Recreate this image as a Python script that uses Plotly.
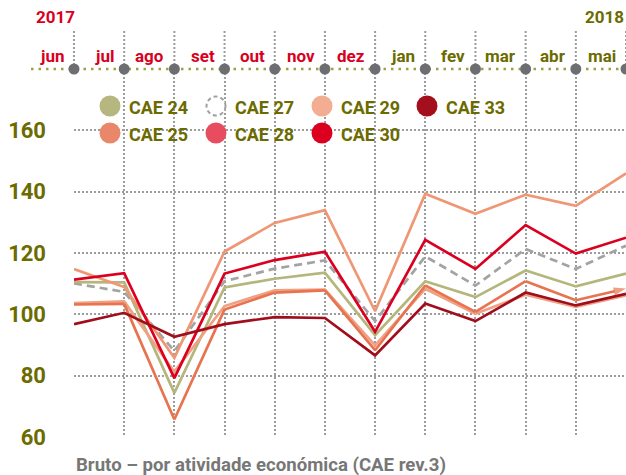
import plotly.graph_objects as go

# ---------------- data ----------------
months = ["jun", "jul", "ago", "set", "out", "nov", "dez", "jan", "fev", "mar", "abr", "mai"]
month_year = [2017, 2017, 2017, 2017, 2017, 2017, 2017, 2018, 2018, 2018, 2018, 2018]
years = ["2017", "2018"]

cae24 = [110.5, 110.4, 74.4, 108.8, 111.6, 113.6, 93.2, 110.8, 105.6, 114.3, 109.1, 113.3]
cae25 = [103.2, 103.4, 65.7, 101.6, 107.1, 107.8, 88.3, 109.4, 100.8, 110.8, 104.6, 108.4]
cae27 = [110.1, 107.3, 88.0, 110.8, 114.9, 117.6, 97.8, 118.9, 109.4, 121.3, 114.8, 122.4]
cae28 = [103.7, 104.2, 81.3, 102.7, 107.8, 108.1, 89.9, 108.3, 100.2, 106.4, 102.4, 106.2]
cae29 = [114.8, 108.9, 85.8, 120.5, 129.8, 134.0, 101.0, 139.3, 132.8, 139.0, 135.4, 146.0]
cae30 = [111.3, 113.4, 79.2, 113.3, 117.7, 120.4, 94.3, 124.3, 114.8, 129.1, 119.8, 125.0]
cae33 = [96.8, 100.5, 92.7, 96.8, 99.1, 98.8, 86.6, 103.5, 97.8, 107.1, 102.9, 106.7]

y_ticks = [60, 80, 100, 120, 140, 160]
timeline_value = 180
caption = "Bruto \u2013 por atividade económica (CAE rev.3)"

# ---------------- styles ----------------
OLIVE = "#6b6b00"
RED_TXT = "#d9001e"
GRID = "#9c9c9c"
FONT = "Roboto"

series = [
    # name, values, line colour, legend colour, dash
    ("CAE 27", cae27, "#a3a3a3", None, "8px,5px"),
    ("CAE 24", cae24, "#b5b67c", "#b6b680", "solid"),
    ("CAE 29", cae29, "#ef9775", "#f2ad93", "solid"),
    ("CAE 28", cae28, "#f0a083", "#e84d5f", "solid"),
    ("CAE 25", cae25, "#e8734f", "#e8876a", "solid"),
    ("CAE 30", cae30, "#dc0020", "#dc0020", "solid"),
    ("CAE 33", cae33, "#a10e1b", "#a30f1c", "solid"),
]
legend_layout = [  # order in legend grid (row-major)
    ["CAE 24", "CAE 27", "CAE 29", "CAE 33"],
    ["CAE 25", "CAE 28", "CAE 30"],
]

W, H = 626, 475
PLOT_L, PLOT_R, PLOT_T, PLOT_B = 74, 626, 69, 437   # plot area in page pixels
ML, MT = PLOT_L, PLOT_T
MR = W - PLOT_R
MB = H - PLOT_B
PW, PH = PLOT_R - PLOT_L, PLOT_B - PLOT_T


def px_x(px):
    return (px - PLOT_L) / PW


def px_y(py):
    return (PLOT_B - py) / PH


fig = go.Figure()

for name, vals, col, _, dash in series:
    n = len(vals)
    marker = None
    mode = "lines"
    if name == "CAE 25":
        mode = "lines+markers"
        marker = dict(symbol="arrow", angleref="previous",
                      size=[0] * (n - 1) + [13], color=col, line=dict(width=0))
    fig.add_trace(go.Scatter(
        x=months, y=vals, mode=mode, name=name, marker=marker,
        line=dict(color=col, width=2.7, dash=dash),
        showlegend=False, hoverinfo="skip",
    ))

# timeline dots
fig.add_trace(go.Scatter(
    x=months, y=[timeline_value] * len(months), mode="markers",
    marker=dict(size=11, color="#6d6e71"), cliponaxis=False,
    showlegend=False, hoverinfo="skip",
))

shapes = []
# timeline dotted olive line
shapes.append(dict(type="line", xref="paper", yref="paper",
                   x0=px_x(31), x1=1.0, y0=1.0, y1=1.0,
                   line=dict(color="#a0a040", width=2.5, dash="2.5px,5px"),
                   layer="between"))
# vertical gridline extension above timeline
n = len(months)
for i in range(n):
    shapes.append(dict(type="line", xref="paper", yref="paper",
                       x0=i / (n - 1), x1=i / (n - 1), y0=1.0, y1=px_y(29),
                       line=dict(color=GRID, width=2, dash="2px,2px"),
                       layer="below"))
# white box behind legend
shapes.append(dict(type="rect", xref="paper", yref="paper",
                   x0=px_x(78), x1=px_x(520), y0=px_y(155), y1=px_y(85),
                   fillcolor="white", line=dict(width=0), layer="between"))

annotations = []
# legend
col_x = [110, 216, 322, 427]
row_y = [106, 133]
r = 10.5
leg_col = {s[0]: s for s in series}
for ri, row in enumerate(legend_layout):
    for ci, name in enumerate(row):
        cx, cy = col_x[ci], row_y[ri]
        lc = leg_col[name][3]
        if lc is None:
            shapes.append(dict(type="circle", xref="paper", yref="paper",
                               x0=px_x(cx - r + 1), x1=px_x(cx + r - 1),
                               y0=px_y(cy + r - 1), y1=px_y(cy - r + 1),
                               fillcolor="white",
                               line=dict(color="#a0a0a0", width=2, dash="4px,3px")))
        else:
            shapes.append(dict(type="circle", xref="paper", yref="paper",
                               x0=px_x(cx - r), x1=px_x(cx + r),
                               y0=px_y(cy + r), y1=px_y(cy - r),
                               fillcolor=lc, line=dict(width=0)))
        annotations.append(dict(text=f"<b>{name}</b>", xref="paper", yref="paper",
                                x=px_x(cx + 17), y=px_y(cy + 1), xanchor="left",
                                yanchor="middle", showarrow=False,
                                font=dict(family=FONT, size=18, color=OLIVE)))

# month labels
for m, yr in zip(months, month_year):
    annotations.append(dict(text=f"<b>{m}</b>", xref="x", yref="paper", x=m,
                            y=px_y(56), xanchor="right", yanchor="middle",
                            xshift=-8, showarrow=False,
                            font=dict(family=FONT, size=17,
                                      color=RED_TXT if yr == 2017 else OLIVE)))
# year labels
annotations.append(dict(text=f"<b>{years[0]}</b>", xref="x", yref="paper", x=months[0],
                        y=px_y(17), xanchor="right", yanchor="middle", xshift=3,
                        showarrow=False, font=dict(family=FONT, size=17, color=RED_TXT)))
annotations.append(dict(text=f"<b>{years[1]}</b>", xref="x", yref="paper", x=months[-1],
                        y=px_y(17), xanchor="right", yanchor="middle", xshift=0,
                        showarrow=False, font=dict(family=FONT, size=17, color=OLIVE)))
# caption
annotations.append(dict(text=f"<b>{caption}</b>", xref="paper", yref="paper",
                        x=0, y=px_y(465), xanchor="left", yanchor="middle",
                        showarrow=False, font=dict(family=FONT, size=18.6, color="#777777")))

fig.update_layout(
    width=W, height=H,
    margin=dict(l=ML, r=MR, t=MT, b=MB, pad=0),
    paper_bgcolor="white", plot_bgcolor="white",
    showlegend=False,
    shapes=shapes, annotations=annotations,
    xaxis=dict(type="category", categoryorder="array", categoryarray=months,
               range=[0, len(months) - 1], showgrid=True, gridcolor=GRID,
               gridwidth=2, griddash="2px,2px", showticklabels=False,
               zeroline=False, showline=False, ticks=""),
    yaxis=dict(range=[60, timeline_value], tickvals=y_ticks, showgrid=True,
               gridcolor=GRID, gridwidth=2, griddash="2px,2px", zeroline=False,
               showline=False, ticks="", ticklabelstandoff=27,
               tickfont=dict(family=FONT, size=22, color=OLIVE, weight="bold")),
)

fig.write_html(
    "out.html",
    config={"displayModeBar": False},
    post_script=("document.body.style.margin='0px';"
                 "document.body.style.overflow='hidden';"
                 "document.documentElement.style.overflow='hidden';"),
)
